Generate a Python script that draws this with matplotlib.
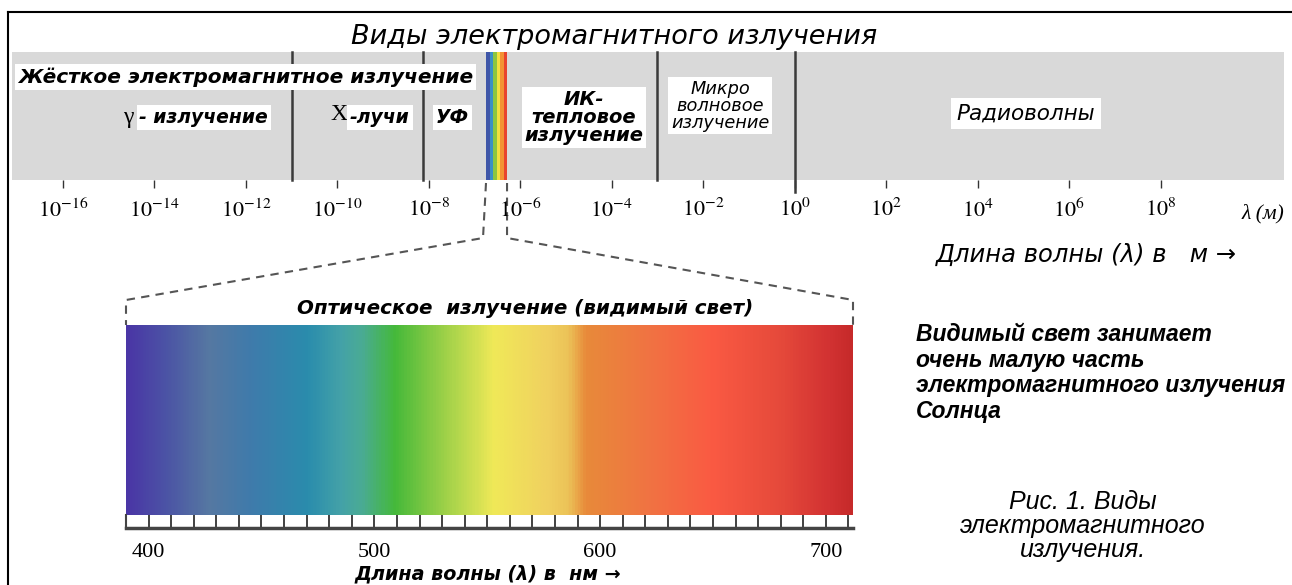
import numpy as np
import matplotlib
matplotlib.use("Agg")
import matplotlib.pyplot as plt
from matplotlib.colors import LinearSegmentedColormap
from matplotlib.ticker import NullLocator

plt.rcParams['mathtext.fontset'] = 'stix'

# --- data -------------------------------------------------------------
# wavelength decades shown on the top scale (log10 of metres)
decades = list(range(-16, 9, 2))
# boundaries between radiation types, log10(m)
boundaries = [-11, -8.13, -3.0, 0.0]
# the small rainbow strip (visible band) on the top scale, log10(m)
strip_lo, strip_hi = -6.75, -6.29
strip_colors = ['#3f56a8', '#3a8fc4', '#8cc63e', '#f2e03c', '#f39233', '#e8432e']

# visible spectrum gradient, nm -> colour
spec_nm = [390, 408, 426, 445, 470, 485, 494, 509, 526, 553,
           577, 586, 594, 621, 650, 680, 702, 712]
spec_colors = ['#4a36a6', '#4c55a5', '#5678a2', '#3f7bab', '#2a8cad', '#44a2a8',
               '#4aab95', '#45b93a', '#8acb45', '#f0e958', '#f0d060', '#ecc358',
               '#e88a3a', '#f07442', '#fa5a43', '#e64a3b', '#d23232', '#c62a2a']
nm_ticks = list(range(390, 711, 10))
nm_labels = [400, 500, 600, 700]

W, H = 1292, 585


def px_box(x0, y0, x1, y1):
    return [x0 / W, 1 - y1 / H, (x1 - x0) / W, (y1 - y0) / H]


fig = plt.figure(figsize=(W / 100, H / 100), dpi=100)
fig.patch.set_facecolor('white')

# background axes in pixel coordinates (y from top)
bg = fig.add_axes([0, 0, 1, 1])
bg.set_xlim(0, W)
bg.set_ylim(H, 0)
bg.axis('off')
bg.plot([8, 8], [12, H], color='black', lw=1.5)
bg.plot([8, W], [12, 12], color='black', lw=1.5)

# --- top scale ----------------------------------------------------------
top = fig.add_axes(px_box(12, 52, 1284, 180))
top.set_xscale('log')
top.set_xlim(10 ** -17.115, 10 ** 10.70)
top.set_ylim(0, 1)
top.set_facecolor('#d9d9d9')
for s in top.spines.values():
    s.set_visible(False)
top.set_yticks([])
top.set_xticks([10.0 ** k for k in decades])
top.set_xticklabels(['$10^{%d}$' % k for k in decades], fontsize=16)
top.xaxis.set_minor_locator(NullLocator())
top.tick_params(axis='x', direction='out', length=6, width=1, color='#333333', pad=7)

edges = np.linspace(strip_lo, strip_hi, len(strip_colors) + 1)
for i, c in enumerate(strip_colors):
    top.axvspan(10 ** edges[i], 10 ** edges[i + 1], color=c, lw=0)

for b in boundaries:
    ymin = -0.09 if b == 0 else 0
    top.axvline(10 ** b, ymin=ymin, ymax=1, color='#3a3a3a', lw=1.8, clip_on=False)

tr = top.get_xaxis_transform()
box = dict(facecolor='white', edgecolor='none', pad=2)
sans = 'DejaVu Sans'
top.text(10 ** -16.98, 0.805, 'Жёсткое электромагнитное излучение', transform=tr,
         ha='left', va='center', family=sans, style='oblique', weight='bold',
         fontsize=14.5, bbox=box)
top.text(10 ** -14.58, 0.49, 'γ', transform=tr, ha='center', va='center',
         family='Liberation Serif', fontsize=17)
top.text(10 ** -12.92, 0.49, '- излучение', transform=tr, ha='center', va='center',
         family=sans, style='oblique', weight='bold', fontsize=13.5, bbox=box)
top.text(10 ** -9.96, 0.51, 'X', transform=tr, ha='center', va='center',
         family='Liberation Serif', fontsize=17)
top.text(10 ** -9.07, 0.49, '-лучи', transform=tr, ha='center', va='center',
         family=sans, style='oblique', weight='bold', fontsize=13.5, bbox=box)
top.text(10 ** -7.49, 0.49, 'УФ', transform=tr, ha='center', va='center',
         family=sans, style='oblique', weight='bold', fontsize=13.5, bbox=box)
top.text(10 ** -4.61, 0.49, 'ИК-\nтепловое\nизлучение', transform=tr, ha='center',
         va='center', family=sans, style='oblique', weight='bold', fontsize=14,
         linespacing=0.95, bbox=box)
top.text(10 ** -1.63, 0.58, 'Микро\nволновое\nизлучение', transform=tr, ha='center',
         va='center', family=sans, style='oblique', fontsize=12.8,
         linespacing=0.92, bbox=box)
top.text(10 ** 5.06, 0.52, 'Радиоволны', transform=tr, ha='center', va='center',
         family=sans, style='oblique', fontsize=15.5,
         bbox=dict(facecolor='white', edgecolor='none', pad=4))
top.text(10 ** 10.24, -0.26, 'λ (м)', transform=tr, ha='center', va='center',
         family='Liberation Serif', style='italic', fontsize=15.5)

# --- visible spectrum ---------------------------------------------------
vis = fig.add_axes(px_box(126, 325, 853, 515))
lo, hi = spec_nm[0], spec_nm[-1]
cmap = LinearSegmentedColormap.from_list(
    'vis', [((n - lo) / (hi - lo), c) for n, c in zip(spec_nm, spec_colors)])
grad = np.linspace(lo, hi, 800)[None, :]
vis.imshow(grad, extent=[lo, hi, 0, 1], aspect='auto', cmap=cmap, vmin=lo, vmax=hi)
vis.set_xlim(lo, hi)
vis.axis('off')

rul = fig.add_axes(px_box(126, 515, 853, 528))
rul.set_xlim(lo, hi)
rul.set_ylim(0, 1)
rul.vlines(nm_ticks, 0, 1, color='#333333', lw=1.3)
for k in ['top', 'right']:
    rul.spines[k].set_visible(False)
rul.spines['bottom'].set_linewidth(2.5)
rul.spines['bottom'].set_color('#444444')
rul.spines['left'].set_linewidth(1.5)
rul.spines['left'].set_color('#444444')
rul.set_yticks([])
rul.set_xticks(nm_labels)
rul.set_xticklabels([str(v) for v in nm_labels], family='Liberation Serif', fontsize=16)
rul.tick_params(axis='x', length=0, pad=11)

# --- dashed connectors from the strip to the spectrum ---------------------
inv = bg.transData.inverted()
for x_strip, x_spec, dx in [(strip_lo, lo, -3), (strip_hi, hi, 0)]:
    sx, sy = inv.transform(top.transData.transform((10 ** x_strip, 0)))
    vx, vy = inv.transform(vis.transData.transform((x_spec, 1)))
    bg.plot([sx, sx + dx, vx, vx], [sy + 3, 238, 300, vy],
            color='#555555', lw=1.5, ls=(0, (4, 3)))

# --- texts ---------------------------------------------------------------
bg.text(614, 37, 'Виды электромагнитного излучения', ha='center', va='center',
        family=sans, style='oblique', fontsize=19.5)
bg.text(1086, 255, 'Длина волны (λ) в   м →', ha='center', va='center',
        family=sans, style='oblique', fontsize=17.5)
bg.text(525, 309, 'Оптическое  излучение (видимый свет)', ha='center', va='center',
        family=sans, style='oblique', weight='bold', fontsize=14.3)
bg.text(488, 574, 'Длина волны (λ) в  нм →', ha='center', va='center',
        family=sans, style='oblique', weight='bold', fontsize=13.8)
bg.text(916, 373, 'Видимый свет занимает\nочень малую часть\nэлектромагнитного излучения\nСолнца',
        ha='left', va='center', family='Liberation Sans', style='italic', weight='bold',
        fontsize=16.5, linespacing=1.15)
bg.text(1083, 526, 'Рис. 1. Виды\nэлектромагнитного\nизлучения.', ha='center', va='center',
        family='Liberation Sans', style='italic', fontsize=18, linespacing=1.0)

fig.savefig('out.png', dpi=100)
